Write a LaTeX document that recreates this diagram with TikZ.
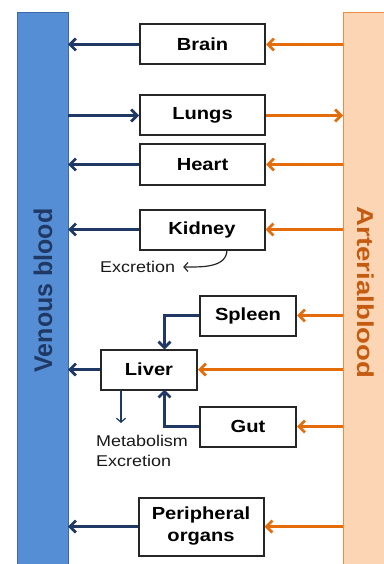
\documentclass[tikz,border=0pt]{standalone}
\usepackage{fontspec}
\setmainfont{Liberation Sans}[FakeStretch=1.15]
\newfontfamily\venfont{Liberation Sans}[FakeStretch=0.98]
\newfontfamily\artfont{Liberation Sans}[FakeStretch=1.2]
\usetikzlibrary{arrows.meta}
\definecolor{venfill}{RGB}{85,142,213}
\definecolor{venline}{RGB}{60,105,170}
\definecolor{ventext}{RGB}{31,56,100}
\definecolor{artfill}{RGB}{252,213,181}
\definecolor{artline}{RGB}{232,140,70}
\definecolor{arttext}{RGB}{197,90,17}
\definecolor{navy}{RGB}{31,56,100}
\definecolor{orng}{RGB}{228,108,10}
\tikzset{
  organ/.style={draw=black!85, line width=2pt, fill=white, minimum width=125pt, minimum height=40pt, inner sep=0pt,
    font=\fontsize{17.5}{22}\selectfont\bfseries, align=center},
  organs/.style={organ, minimum width=96pt},
  navyarrow/.style={draw=navy, line width=2.8pt, -{Straight Barb[length=6pt,width=12pt]}},
  orngarrow/.style={draw=orng, line width=2.8pt, -{Straight Barb[length=6pt,width=12pt]}},
  thinarrow/.style={line width=1.2pt, -{Straight Barb[length=4pt,width=9pt]}},
  small/.style={font=\fontsize{15.6}{20}\selectfont, text=black!90, inner sep=0pt, align=left}
}
\begin{document}
\begin{tikzpicture}[x=1pt,y=-1pt]
\useasboundingbox (0,0) rectangle (383,564);
% bars
\draw[fill=venfill, draw=venline, line width=1pt] (17,13) rectangle (68,570);
\draw[fill=artfill, draw=artline, line width=1pt] (343,13) rectangle (392,570);
\node[rotate=90, text=ventext, font=\venfont\fontsize{25.5}{28}\selectfont\bfseries, inner sep=0pt] (ven) at (43,290.5) {Venous blood};
\node[rotate=-90, text=arttext, font=\artfont\fontsize{23}{26}\selectfont\bfseries, inner sep=0pt] (art) at (365.5,292.5) {Arterialblood};
\coordinate (vr) at (68,0);
\coordinate (al) at (343,0);
% organs
\node[organ] (brain) at (202.5,44.5) {Brain};
\node[organ] (lungs) at (202.5,115.5) {Lungs};
\node[organ] (heart) at (202.5,164.5) {Heart};
\node[organ] (kidney) at (202,229.5) {Kidney};
\node[organs] (spleen) at (248,315.5) {Spleen};
\node[organs] (liver) at (149,369.5) {Liver};
\node[organs] (gut) at (248,426.5) {Gut};
\node[organ, minimum height=58pt] (periph) at (201,526.5) {Peripheral\\organs};
% arterial to organs
\foreach \n in {brain,heart,kidney,spleen,liver,gut,periph}{
  \draw[orngarrow] (al |- \n.east) -- (\n.east);
}
\draw[orngarrow] (lungs.east) -- (al |- lungs.east);
% organs to venous
\foreach \n in {brain,heart,kidney,liver,periph}{
  \draw[navyarrow] (\n.west) -- (vr |- \n.west);
}
\draw[navyarrow] (vr |- lungs.west) -- (lungs.west);
% spleen, gut to liver
\coordinate (lt) at (164.5,349.5);
\coordinate (lb) at (164.5,389.5);
\draw[navyarrow] (spleen.west) -| (lt);
\draw[navyarrow] (gut.west) -| (lb);
% excretion
\node[small, anchor=west] (exc) at (100,267) {Excretion};
\coordinate (kb) at (227,249.5);
\draw[thinarrow, draw=black!85] (kb) to[out=-90, in=0] ([xshift=8pt]exc.east);
% metabolism
\node[small, anchor=north west] (met) at (96,435) {Metabolism\\Excretion};
\coordinate (ls) at (121,389.5);
\coordinate (le) at (121,423);
\draw[thinarrow, draw=navy] (ls) -- (le);
\end{tikzpicture}
\end{document}
